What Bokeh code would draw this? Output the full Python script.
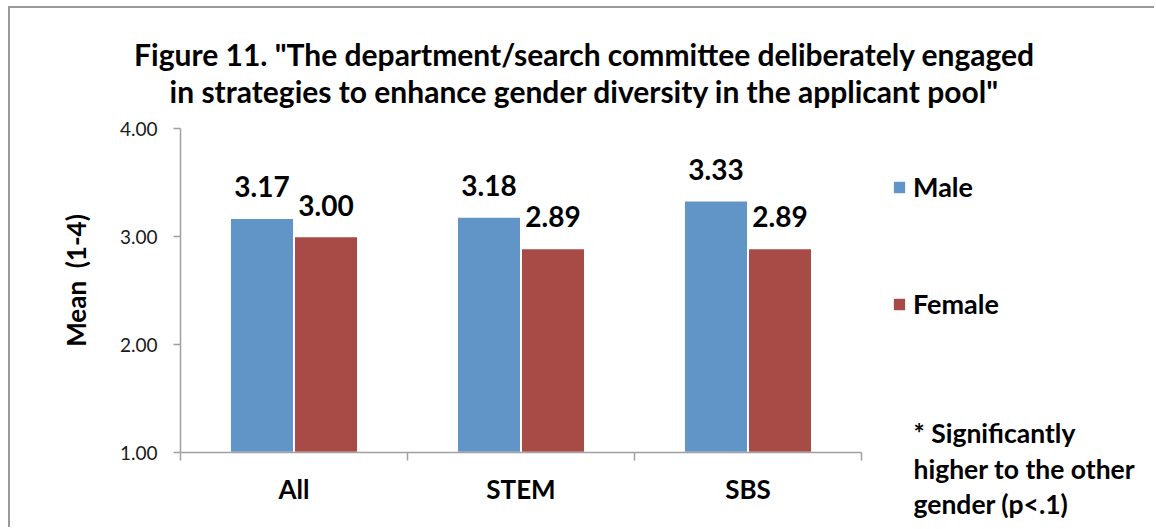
from math import pi
from bokeh.plotting import figure
from bokeh.core.properties import value
from bokeh.models import (ColumnDataSource, Range1d, FixedTicker, PrintfTickFormatter, Label,
                          LabelSet, Legend, LegendItem, LinearAxis)
from bokeh.transform import dodge
from bokeh.embed import file_html
from bokeh.resources import INLINE

# ---- data ----
categories = ["All", "STEM", "SBS"]
male = [3.17, 3.18, 3.33]
female = [3.00, 2.89, 2.89]
y_ticks = [1, 2, 3, 4]
title_lines = ['Figure 11. "The department/search committee deliberately engaged',
               'in strategies to enhance gender diversity in the applicant pool"']
note_lines = ["* Significantly", "higher to the other", "gender (p<.1)"]
y_title = "Mean\u00a0 (1-4)"

BLUE = "#6195C8"
RED = "#A84B46"
GRAY = "#A0A0A0"
FONT = "Lato"

W, H = 1146, 521
# frame fills the canvas; axes are placed at fixed data locations inside it
PX_X = 227.0   # px per category
PX_Y = 108.0   # px per unit of mean
X0 = -170 / PX_X
Y0 = 1 - (529 - 452) / PX_Y

centers = [i + 0.5 for i in range(len(categories))]
src = ColumnDataSource(dict(
    xc=centers, cat=categories, male=male, female=female,
    male_lbl=[f"{v:.2f}" for v in male],
    female_lbl=[f"{v:.2f}" for v in female],
))

p = figure(width=W, height=H, x_range=Range1d(X0, X0 + W / PX_X),
           y_range=Range1d(Y0, Y0 + H / PX_Y), output_backend="svg", toolbar_location=None,
           title=None, x_axis_location=None, y_axis_location=None,
           min_border=0, min_border_left=0, min_border_right=0, min_border_top=0,
           min_border_bottom=0)
p.styles = {"margin-left": "8px", "margin-top": "6px",
            "border-left": "2px solid #9A9A9A", "border-top": "2px solid #9A9A9A"}
p.outline_line_color = None
p.background_fill_color = "white"
p.border_fill_color = "white"
p.grid.grid_line_color = None
p.grid.visible = False

m = p.vbar(x=dodge("xc", -0.141), top="male", bottom=1, width=0.28, source=src,
           fill_color=BLUE, line_color="white", line_width=1.5)
f = p.vbar(x=dodge("xc", 0.141), top="female", bottom=1, width=0.28, source=src,
           fill_color=RED, line_color="white", line_width=1.5)

for col, off in (("male", -0.141), ("female", 0.141)):
    p.add_layout(LabelSet(x=dodge("xc", off), y=col, text=col + "_lbl", source=src,
                          y_offset=21, text_align="center", text_baseline="alphabetic",
                          text_font=value(FONT), text_font_style="bold", text_font_size="28px",
                          text_color="black"))

# y axis
ya = LinearAxis(fixed_location=0, bounds=(1, 4), ticker=FixedTicker(ticks=y_ticks),
                formatter=PrintfTickFormatter(format="%.2f"))
ya.major_tick_out = 7
ya.major_tick_in = 0
ya.minor_tick_out = 0
ya.minor_tick_in = 0
ya.axis_line_color = GRAY
ya.axis_line_width = 1.5
ya.major_tick_line_color = GRAY
ya.major_tick_line_width = 1.5
ya.major_label_standoff = 16
ya.major_label_text_font = FONT
ya.major_label_text_font_size = "19px"
ya.major_label_text_color = "#1a1a1a"
p.add_layout(ya, "left")

# x axis (category labels centred, separator ticks at boundaries)
xa = LinearAxis(fixed_location=1, bounds=(0, len(categories)),
                ticker=FixedTicker(ticks=centers, minor_ticks=list(range(len(categories) + 1))),
                major_label_overrides={c: n for c, n in zip(centers, categories)})
xa.major_tick_out = 0
xa.major_tick_in = 0
xa.minor_tick_out = 8
xa.minor_tick_in = 0
xa.minor_tick_line_color = GRAY
xa.minor_tick_line_width = 1.5
xa.axis_line_color = GRAY
xa.axis_line_width = 1.5
xa.major_label_standoff = 12
xa.major_label_text_font = FONT
xa.major_label_text_font_style = "bold"
xa.major_label_text_font_size = "26px"
xa.major_label_text_color = "black"
p.add_layout(xa, "below")

# y axis title
p.add_layout(Label(x=(75 - 180) / PX_X, y=1 + (452 - 280) / PX_Y, text=y_title, angle=pi / 2,
                   text_align="center", text_baseline="middle", text_font=FONT,
                   text_font_style="bold", text_font_size="26px", text_color="black"))

# chart title
for txt, by in zip(title_lines, (53, 90)):
    p.add_layout(Label(x=(584 - 180) / PX_X, y=1 + (452 - by) / PX_Y, text=txt, text_align="center",
                       text_baseline="alphabetic", text_font=FONT, text_font_style="bold",
                       text_font_size="30px", text_color="black"))

# note
for txt, by in zip(note_lines, (432, 468, 503)):
    p.add_layout(Label(x=(913 - 180) / PX_X, y=1 + (452 - by) / PX_Y, text=txt, text_align="left",
                       text_baseline="alphabetic", text_font=FONT, text_font_style="bold",
                       text_font_size="26.5px", text_color="black"))

# legends (one per item for exact placement)
for rend, name, cy in ((m, "Male", 196), (f, "Female", 313)):
    lg = Legend(items=[LegendItem(label=name, renderers=[rend])], location=(881, 529 - cy - 7),
                glyph_width=16, glyph_height=16, label_height=14, label_standoff=6,
                padding=0, margin=0, border_line_color=None, background_fill_alpha=0,
                label_text_font=FONT, label_text_font_style="bold", label_text_font_size="27px",
                label_text_color="black", label_text_baseline="middle")
    p.add_layout(lg, "center")

open("out.html", "w").write(file_html(p, INLINE))
